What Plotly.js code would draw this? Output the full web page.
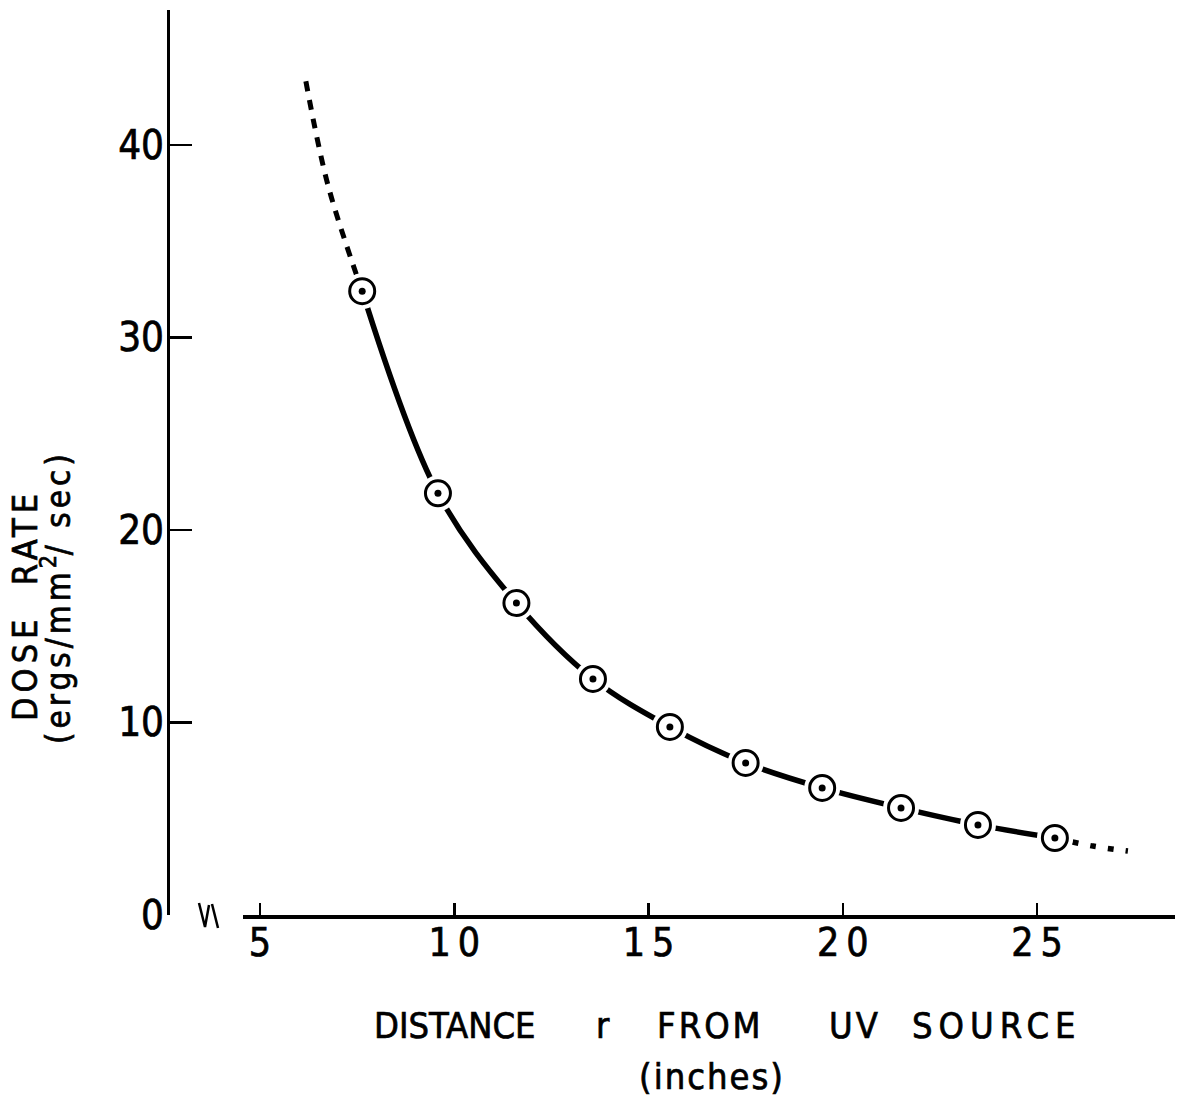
<!DOCTYPE html>
<html>
<head>
<meta charset="utf-8">
<script src="https://cdn.plot.ly/plotly-3.0.1.min.js"></script>
<style>
  html, body { margin: 0; padding: 0; background: #fff; }
  #chart { width: 1182px; height: 1098px; }
  /* heavier lettering */
  #chart .main-svg text { stroke: #000; stroke-width: 0.7px; }
</style>
</head>
<body>
<div id="chart"></div>
<script>
// Measured dose rate at each distance from the UV lamp
const distance = [7.63, 9.58, 11.6, 13.57, 15.55, 17.5, 19.47, 21.5, 23.48, 25.46];
const doseRate = [32.4, 21.9, 16.2, 12.26, 9.77, 7.9, 6.6, 5.56, 4.68, 4.0];

// Extrapolated parts of the curve (dashed above, dotted below)
const nearDistance = [6.18, 6.75, 7.63];
const nearDose = [43.3, 37.9, 32.4];
const farDistance = [25.46, 26.44, 27.34];
const farDose = [4.0, 3.58, 3.32];

// Axis ticks
const xTickVals = [5, 10, 15, 20, 25];
const xTickText = ['5', '1\u20090', '1\u20095', '2\u20090', '2\u20095'];
const yTickVals = [0, 10, 20, 30, 40];
const yTickText = ['0', '10', '20', '30', '40'];

// Axis title words
const xTitleWords = ['DISTANCE', 'r', 'FROM', 'UV', 'SOURCE'];
const xTitleUnit = '(inches)';
const yTitleLines = ['DOSE\u00A0\u00A0RATE', '(ergs/mm<sup>2</sup>/\u00A0sec)'];

const FONT = 'DejaVu Sans Condensed, Liberation Sans Narrow, Arial Narrow, sans-serif';
const INK = '#000';

// Pixel frame of the plot area, used for decorations placed in paper units
const W = 1182, H = 1098;
const M = { l: 168, r: 7, t: 10, b: 183 };
const plotW = W - M.l - M.r, plotH = H - M.t - M.b;
const px = x => (x - M.l) / plotW;
const py = y => (H - M.b - y) / plotH;
const spaced = (s, gap) => `<span style="letter-spacing:${gap}px">${s}</span>`;

const traces = [
  { x: nearDistance, y: nearDose, mode: 'lines', hoverinfo: 'skip',
    line: { color: INK, width: 5, dash: '10px,9px', shape: 'spline' } },
  { x: farDistance, y: farDose, mode: 'lines', hoverinfo: 'skip',
    line: { color: INK, width: 5.5, dash: '6px,12px', shape: 'spline' } },
  { x: distance, y: doseRate, mode: 'lines', hoverinfo: 'skip',
    line: { color: INK, width: 5.5, shape: 'spline', smoothing: 1 } },
  // white halo leaves a small gap in the curve around each point
  { x: distance, y: doseRate, mode: 'markers', hoverinfo: 'skip',
    marker: { symbol: 'circle', size: 36, color: '#fff', line: { width: 0 } } },
  { x: distance, y: doseRate, mode: 'markers', hoverinfo: 'skip',
    marker: { symbol: 'circle', size: 25, color: '#fff', line: { color: INK, width: 3 } } },
  { x: distance, y: doseRate, mode: 'markers', hoverinfo: 'skip',
    marker: { symbol: 'circle', size: 7, color: INK, line: { width: 0 } } }
];

// x-title words placed at their own centres (pixels) with their own letter spacing
const xWordCentres = [455, 603, 710, 855, 997];
const xWordGaps = [0, 0, 3, 3, 6];
const annotations = xTitleWords.map((w, i) => ({
  xref: 'paper', yref: 'paper', x: px(xWordCentres[i]), y: py(1025),
  xanchor: 'center', yanchor: 'middle', showarrow: false,
  text: spaced(w, xWordGaps[i]),
  font: { family: FONT, size: 36, color: INK }
}));
annotations.push({
  xref: 'paper', yref: 'paper', x: px(712), y: py(1076),
  xanchor: 'center', yanchor: 'middle', showarrow: false,
  text: spaced(xTitleUnit, 2),
  font: { family: FONT, size: 36, color: INK }
});
annotations.push({
  xref: 'paper', yref: 'paper', x: px(25), y: py(605), textangle: -90,
  xanchor: 'center', yanchor: 'middle', showarrow: false,
  text: spaced(yTitleLines[0], 5),
  font: { family: FONT, size: 34, color: INK }
});
annotations.push({
  xref: 'paper', yref: 'paper', x: px(56), y: py(597), textangle: -90,
  xanchor: 'center', yanchor: 'middle', showarrow: false,
  text: '<span style="letter-spacing:4px">(ergs/mm</span><sup>2</sup><span style="letter-spacing:4px">/\u00A0sec)</span>',
  font: { family: FONT, size: 33, color: INK }
});

const layout = {
  width: W, height: H,
  margin: M,
  paper_bgcolor: '#fff', plot_bgcolor: '#fff',
  showlegend: false,
  font: { family: FONT, color: INK },
  xaxis: {
    domain: [px(243), 1],
    range: [4.562, 28.552],
    showgrid: false, zeroline: false,
    showline: true, linecolor: INK, linewidth: 3.5,
    ticks: 'inside', ticklen: 12, tickwidth: 2.5, tickcolor: INK,
    tickvals: xTickVals, ticktext: xTickText,
    tickfont: { family: FONT, size: 39, color: INK },
    ticklabelstandoff: -9
  },
  yaxis: {
    anchor: 'free', position: 0,
    range: [0, 47.0],
    showgrid: false, zeroline: false,
    showline: true, linecolor: INK, linewidth: 3,
    ticks: 'inside', ticklen: 22, tickwidth: 2.5, tickcolor: INK,
    tickvals: yTickVals, ticktext: yTickText,
    tickfont: { family: FONT, size: 40, color: INK },
    ticklabelstandoff: -5
  },
  shapes: [
    // axis break mark between the y axis and the start of the x axis
    { type: 'path', xref: 'paper', yref: 'paper',
      path: `M${px(199)},${py(903)} L${px(205)},${py(927)} L${px(209)},${py(905)} M${px(212)},${py(904)} L${px(218)},${py(928)}`,
      line: { color: INK, width: 2.5 } }
  ],
  annotations: annotations
};

Plotly.newPlot('chart', traces, layout, { staticPlot: true, displayModeBar: false });
</script>
</body>
</html>
